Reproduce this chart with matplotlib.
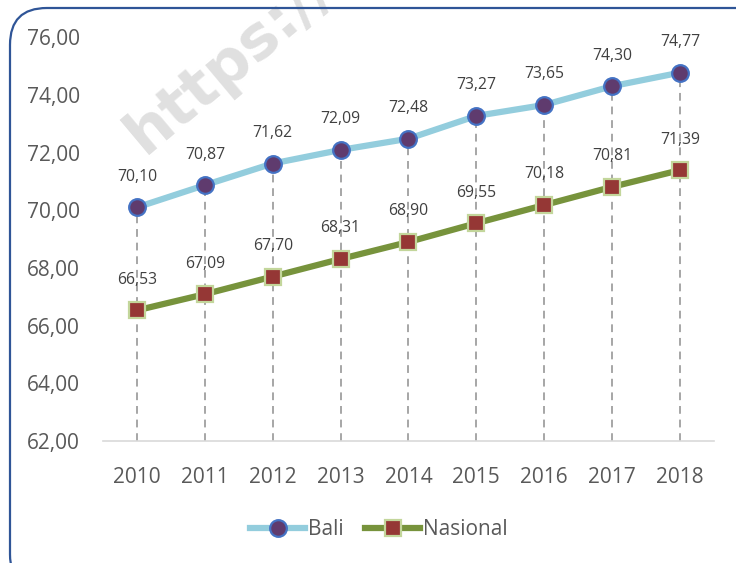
import matplotlib
matplotlib.use("Agg")
import matplotlib.pyplot as plt
from matplotlib.patches import FancyBboxPatch
from matplotlib.lines import Line2D

years = ["2010", "2011", "2012", "2013", "2014", "2015", "2016", "2017", "2018"]
bali = [70.10, 70.87, 71.62, 72.09, 72.48, 73.27, 73.65, 74.30, 74.77]
nasional = [66.53, 67.09, 67.70, 68.31, 68.90, 69.55, 70.18, 70.81, 71.39]
yticks = [62, 64, 66, 68, 70, 72, 74, 76]

plt.rcParams['font.family'] = ['Open Sans', 'DejaVu Sans']
tick_c = "#595959"
label_c = "#404040"

fig = plt.figure(figsize=(7.36, 5.63), dpi=100)
ax = fig.add_axes([0.140, 0.2167, 0.830, 0.7173])

# rounded frame around the chart
frame = FancyBboxPatch((10 / 736, -0.05), 1.05, 1 - 8 / 563 + 0.05,
                       boxstyle="round,pad=0,rounding_size=0.05",
                       transform=fig.transFigure, fill=False,
                       edgecolor="#2F5597", linewidth=1.6, clip_on=False,
                       mutation_aspect=736 / 563, zorder=5)
fig.patches.append(frame)

# faint watermark
fig.text(145 / 736, 1 - 155 / 563, "https://", fontsize=44, fontweight="bold",
         color="#E0E0E0", rotation=40, ha="left", va="baseline",
         rotation_mode="anchor", zorder=0, family="DejaVu Sans")

x = list(range(len(years)))

# drop lines from the higher series down to the axis
for xi, b in zip(x, bali):
    ax.plot([xi, xi], [62, b], color="#A6A6A6", lw=1.4, ls=(0, (4, 3)), zorder=1)

ax.plot(x, bali, color="#93CDDD", lw=4.5, marker="o", ms=12,
        mfc="#5F3B6E", mec="#4472C4", mew=1.6, zorder=3, solid_capstyle="round")
ax.plot(x, nasional, color="#77933C", lw=4.5, marker="s", ms=12,
        mfc="#953735", mec="#C3D69B", mew=1.6, zorder=3, solid_capstyle="round")

for series in (bali, nasional):
    for xi, v in zip(x, series):
        ax.annotate(f"{v:.2f}".replace(".", ","), (xi, v), xytext=(0, 22),
                    textcoords="offset points", ha="center", va="center",
                    fontsize=11.3, color=label_c, zorder=4)

ax.set_xlim(-0.5, len(years) - 0.5)
ax.set_ylim(62, 76)
ax.set_yticks(yticks)
ax.set_yticklabels([f"{t:.2f}".replace(".", ",") for t in yticks])
ax.set_xticks(x)
ax.set_xticklabels(years)
ax.tick_params(axis="both", length=0, labelsize=15, colors=tick_c)
ax.tick_params(axis="y", pad=16.5)
ax.tick_params(axis="x", pad=19)
for s in ["top", "right", "left"]:
    ax.spines[s].set_visible(False)
ax.spines["bottom"].set_color("#D9D9D9")
ax.spines["bottom"].set_linewidth(1.2)
ax.patch.set_alpha(0)

handles = [
    Line2D([], [], color="#93CDDD", lw=4.5, marker="o", ms=12,
           mfc="#5F3B6E", mec="#4472C4", mew=1.6),
    Line2D([], [], color="#77933C", lw=4.5, marker="s", ms=12,
           mfc="#953735", mec="#C3D69B", mew=1.6),
]
fig.legend(handles, ["Bali", "Nasional"], loc="center", bbox_to_anchor=(0.515, 0.059),
           ncol=2, frameon=False, fontsize=15, labelcolor=tick_c,
           handlelength=2.65, handletextpad=0.15, columnspacing=1.0)

fig.savefig("out.png", dpi=100)
